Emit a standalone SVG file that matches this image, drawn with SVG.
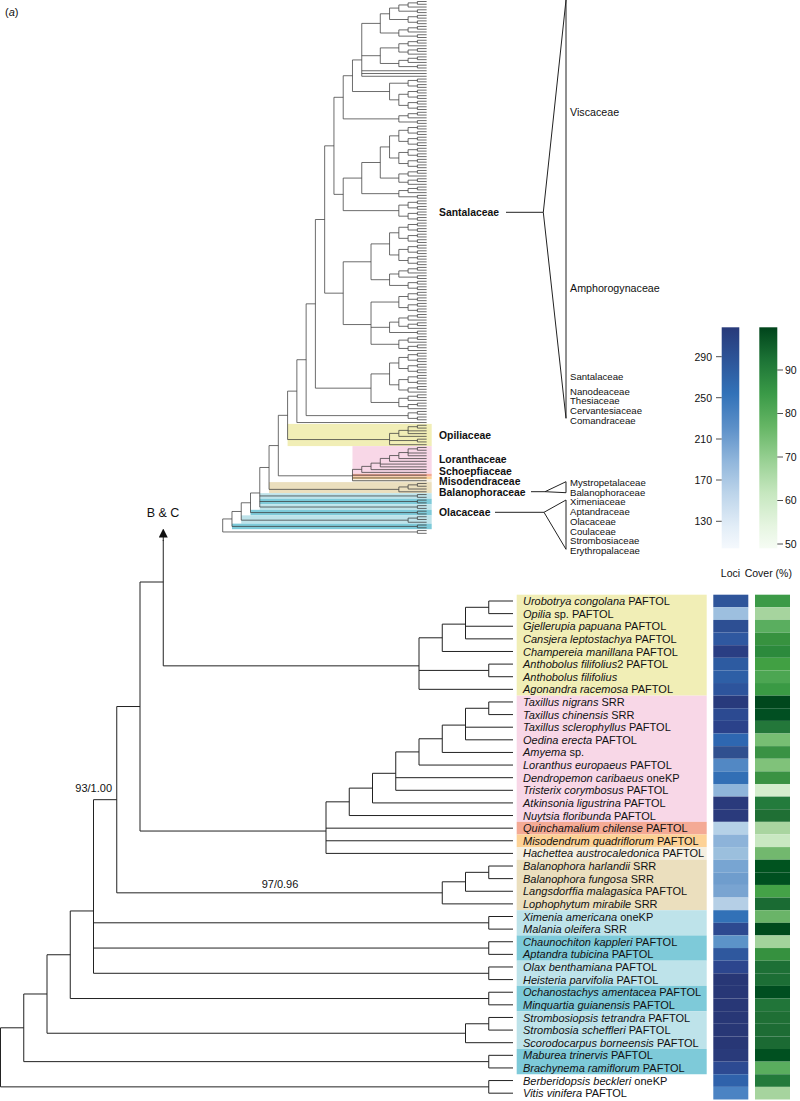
<svg xmlns="http://www.w3.org/2000/svg" xmlns:xlink="http://www.w3.org/1999/xlink" width="800" height="1101" viewBox="0 0 800 1101">
<style>
.t{fill:none;stroke:#3c3c3c;stroke-width:0.75}
.b{fill:none;stroke:#222;stroke-width:1}
.br{fill:none;stroke:#222;stroke-width:1}
.sp{font-family:"Liberation Sans",Arial,sans-serif;font-size:11px;fill:#111}
.i{font-style:italic}
.fb{font-family:"Liberation Sans",Arial,sans-serif;font-size:10.4px;font-weight:bold;fill:#111}
.fn{font-family:"Liberation Sans",Arial,sans-serif;font-size:10.7px;fill:#111}
.fs{font-family:"Liberation Sans",Arial,sans-serif;font-size:9.6px;fill:#111}
.lg{font-family:"Liberation Sans",Arial,sans-serif;font-size:10.5px;fill:#111}
.yel{fill:#f1eeb6}.pnk{fill:#f8d7e7}.sal{fill:#f4aa95}.org{fill:#fdd296}.bei{fill:#f5efe0}.tan{fill:#ebdfbe}.lbl{fill:#bee3ea}.teal{fill:#7ecad9}
</style>
<defs>
<linearGradient id="gB" x1="0" y1="0" x2="0" y2="1">
<stop offset="0" stop-color="#283a7a"/><stop offset="0.15" stop-color="#2d5599"/><stop offset="0.3" stop-color="#3272b8"/><stop offset="0.45" stop-color="#5b8fc8"/><stop offset="0.6" stop-color="#8fb5db"/><stop offset="0.75" stop-color="#bcd4ea"/><stop offset="0.9" stop-color="#e2edf7"/><stop offset="1" stop-color="#f5f9fd"/>
</linearGradient>
<linearGradient id="gG" x1="0" y1="0" x2="0" y2="1">
<stop offset="0" stop-color="#00441b"/><stop offset="0.15" stop-color="#1d7436"/><stop offset="0.3" stop-color="#3a9a47"/><stop offset="0.45" stop-color="#66b665"/><stop offset="0.6" stop-color="#98d093"/><stop offset="0.75" stop-color="#c6e7bf"/><stop offset="0.9" stop-color="#e6f5e1"/><stop offset="1" stop-color="#f6fcf4"/>
</linearGradient>
<path id="C2" d="M-9.27,0H0M-9.27,2.77H0M-9.27,0V2.77"/>
<g id="C3"><use href="#C2"/><path d="M-18.54,1.385H-9.27M-18.54,5.54H0M-18.54,1.385V5.54"/></g>
<g id="C4"><use href="#C2"/><use href="#C2" y="5.54"/><path d="M-18.54,1.385H-9.27M-18.54,6.925H-9.27M-18.54,1.385V6.925"/></g>
<g id="C5"><use href="#C3"/><use href="#C2" y="8.31"/><path d="M-27.81,3.4625H-18.54M-27.81,9.695H-9.27M-27.81,3.4625V9.695"/></g>
<g id="C6"><use href="#C3"/><use href="#C3" y="8.31"/><path d="M-27.81,3.4625H-18.54M-27.81,11.7725H-18.54M-27.81,3.4625V11.7725"/></g>
<g id="C8"><use href="#C4"/><use href="#C4" y="11.08"/><path d="M-27.81,4.155H-18.54M-27.81,15.235H-18.54M-27.81,4.155V15.235"/></g>
<path id="B2" d="M-24.25,0H0M-24.25,12.62H0M-24.25,0V12.62"/>
<marker id="arr" viewBox="0 0 10 10" refX="5" refY="5" markerWidth="9" markerHeight="9" orient="auto"><path d="M0,0L10,5L0,10z" fill="#111"/></marker>
</defs>

<text x="5" y="16" class="sp">(<tspan class="i">a</tspan>)</text>

<!-- top tree clade bands -->
<g id="top-bands">
<rect class="yel" x="287.59" y="423.9" width="144.11" height="22.2"/>
<rect class="pnk" x="352.48" y="446.1" width="79.22" height="27.7"/>
<rect class="sal" x="352.48" y="473.8" width="79.22" height="2.77"/>
<rect class="org" x="352.48" y="476.57" width="79.22" height="2.77"/>
<rect class="bei" x="352.48" y="479.34" width="79.22" height="2.77"/>
<rect class="tan" x="269.05" y="482.1" width="162.65" height="11.08"/>
<rect class="lbl" x="259.78" y="493.18" width="171.92" height="5.54"/>
<rect class="teal" x="259.78" y="498.72" width="171.92" height="5.54"/>
<rect class="lbl" x="259.78" y="504.26" width="171.92" height="5.54"/>
<rect class="teal" x="250.51" y="509.8" width="181.19" height="5.54"/>
<rect class="lbl" x="241.24" y="515.34" width="190.46" height="8.31"/>
<rect class="teal" x="231.97" y="523.65" width="199.73" height="5.54"/>
</g>

<!-- top tree -->
<g id="top-tree" class="t">
<use href="#C5" x="426.64" y="1.5"/>
<use href="#C4" x="426.64" y="15.35"/>
<use href="#C5" x="426.64" y="26.43"/>
<use href="#C6" x="426.64" y="40.28"/>
<use href="#C5" x="426.64" y="56.9"/>
<use href="#C4" x="426.64" y="79.06"/>
<use href="#C4" x="426.64" y="90.14"/>
<use href="#C4" x="426.64" y="101.22"/>
<use href="#C5" x="426.64" y="112.3"/>
<use href="#C8" x="426.64" y="126.15"/>
<use href="#C8" x="426.64" y="148.31"/>
<use href="#C6" x="426.64" y="170.47"/>
<use href="#C5" x="426.64" y="187.09"/>
<use href="#C8" x="426.64" y="200.94"/>
<use href="#C8" x="426.64" y="223.1"/>
<use href="#C8" x="426.64" y="245.26"/>
<use href="#C5" x="426.64" y="267.42"/>
<use href="#C4" x="426.64" y="281.27"/>
<use href="#C8" x="426.64" y="292.35"/>
<use href="#C6" x="426.64" y="314.51"/>
<use href="#C2" x="426.64" y="331.13"/>
<use href="#C3" x="426.64" y="336.67"/>
<use href="#C3" x="426.64" y="344.98"/>
<use href="#C8" x="426.64" y="353.29"/>
<use href="#C4" x="426.64" y="375.45"/>
<use href="#C3" x="426.64" y="386.53"/>
<use href="#C6" x="426.64" y="394.84"/>
<use href="#C4" x="426.64" y="411.46"/>
<use href="#C2" x="426.64" y="425.31"/>
<use href="#C2" x="426.64" y="439.16"/>
<use href="#C2" x="426.64" y="447.47"/>
<use href="#C2" x="426.64" y="483.48"/>
<use href="#C2" x="426.64" y="494.56"/>
<use href="#C2" x="426.64" y="500.10"/>
<use href="#C2" x="426.64" y="505.64"/>
<use href="#C2" x="426.64" y="511.18"/>
<use href="#C2" x="426.64" y="516.72"/>
<use href="#C2" x="426.64" y="525.03"/>
<use href="#C2" x="426.64" y="530.57"/>
<path d="M389.56,8.079V19.505M389.56,8.079H398.83M389.56,19.505H408.10
M380.29,13.792V33.009M380.29,13.792H389.56M380.29,33.009H398.83
M380.29,47.8975V63.479M380.29,47.8975H398.83M380.29,63.479H398.83
M361.75,23.4V76.29M361.75,23.4H380.29M361.75,55.689H380.29M361.75,70.75H426.64M361.75,73.52H426.64M361.75,76.29H426.64
M398.83,94.295V105.375M398.83,94.295H408.10M398.83,105.375H408.10
M389.56,83.215V99.835M389.56,83.215H408.10M389.56,99.835H398.83
M352.48,59.93V91.525M352.48,59.93H361.75M352.48,91.525H389.56
M343.21,75.73V118.879M343.21,75.73H352.48M343.21,118.879H398.83
M389.56,135.845V158.005M389.56,135.845H398.83M389.56,158.005H398.83
M380.29,146.925V178.0875M380.29,146.925H389.56M380.29,178.0875H398.83
M361.75,162.506V193.669M361.75,162.506H380.29M361.75,193.669H398.83
M343.21,178.09V210.635M343.21,178.09H361.75M343.21,210.635H398.83
M333.94,97.3V194.36M333.94,97.3H343.21M333.94,194.36H343.21
M389.56,232.795V254.955M389.56,232.795H398.83M389.56,254.955H398.83
M389.56,273.999V285.425M389.56,273.999H398.83M389.56,285.425H408.10
M389.56,322.1275V332.515M389.56,322.1275H398.83M389.56,332.515H417.37
M398.83,340.1325V348.4425M398.83,340.1325H408.10M398.83,348.4425H408.10
M371.02,243.875V279.712M371.02,243.875H389.56M371.02,279.712H389.56
M371.02,302.045V344.2875M371.02,302.045H398.83M371.02,327.321H389.56M371.02,344.2875H398.83
M343.21,261.79V324.55M343.21,261.79H371.02M343.21,324.55H371.02
M324.67,145.83V293.17M324.67,145.83H333.94M324.67,293.17H343.21
M398.83,379.605V389.9925M398.83,379.605H408.10M398.83,389.9925H408.10
M389.56,362.985V384.799M389.56,362.985H398.83M389.56,384.799H398.83
M371.02,373.892V402.4575M371.02,373.892H389.56M371.02,402.4575H398.83
M315.40,219.5V388.17M315.40,219.5H324.67M315.40,388.17H371.02
M306.13,303.84V415.615M306.13,303.84H315.40M306.13,415.615H408.10
M296.86,359.73V422.54M296.86,359.73H306.13M296.86,422.54H426.64
M287.59,391.135V439.545M287.59,391.135H296.86M287.59,439.545H389.56
M389.56,433.389V444.70M389.56,433.389H398.83M389.56,440.545H417.37M389.56,444.70H426.64
M398.83,430.388V436.39M398.83,430.388H408.10M398.83,436.39H426.64
M408.10,426.695V433.62M408.10,426.695H417.37M408.10,430.85H426.64M408.10,433.62H426.64
M408.10,448.855V455.78M408.10,448.855H417.37M408.10,453.01H426.64M408.10,455.78H426.64
M398.83,452.548V458.55M398.83,452.548H408.10M398.83,458.55H426.64
M389.56,455.549V461.32M389.56,455.549H398.83M389.56,461.32H426.64
M380.29,458.435V466.86M380.29,458.435H389.56M380.29,464.09H426.64M380.29,466.86H426.64
M371.02,463.128V469.63M371.02,463.128H380.29M371.02,469.63H426.64
M361.75,466.379V472.40M361.75,466.379H371.02M361.75,472.40H426.64
M352.48,469.39V480.71M352.48,469.39H361.75M352.48,475.17H426.64M352.48,477.94H426.64M352.48,480.71H426.64
M278.32,415.34V475.80M278.32,415.34H287.59M278.32,475.80H352.48
M408.10,484.865V489.02M408.10,484.865H417.37M408.10,489.02H426.64
M398.83,486.94V491.79M398.83,486.94H408.10M398.83,491.79H426.64
M269.05,445.57V489.365M269.05,445.57H278.32M269.05,489.365H398.83
M259.78,467.47V507.025M259.78,467.47H269.05M259.78,495.945H417.37M259.78,501.485H417.37M259.78,507.025H417.37
M250.51,492.98V512.565M250.51,492.98H259.78M250.51,512.565H417.37
M408.10,518.105V522.26M408.10,518.105H417.37M408.10,522.26H426.64
M241.24,502.77V520.18M241.24,502.77H250.51M241.24,520.18H408.10
M231.97,511.475V526.415M231.97,511.475H241.24M231.97,526.415H417.37
M222.70,518.945V531.955M222.70,518.945H231.97M222.70,531.955H417.37"/>
</g>

<!-- top tree family labels -->
<g id="top-labels">
<text class="fb" x="439" y="216">Santalaceae</text>
<text class="fb" x="439" y="438.8">Opiliaceae</text>
<text class="fb" x="439" y="462.8">Loranthaceae</text>
<text class="fb" x="439" y="475">Schoepfiaceae</text>
<text class="fb" x="439" y="485.3">Misodendraceae</text>
<text class="fb" x="439" y="495.6">Balanophoraceae</text>
<text class="fb" x="439" y="516">Olacaceae</text>
<text class="fn" x="570" y="115.8">Viscaceae</text>
<text class="fn" x="570" y="291.8">Amphorogynaceae</text>
<text class="fs" x="570" y="380">Santalaceae</text>
<text class="fs" x="570" y="394.6">Nanodeaceae</text>
<text class="fs" x="570" y="404.4">Thesiaceae</text>
<text class="fs" x="570" y="414.2">Cervantesiaceae</text>
<text class="fs" x="570" y="424">Comandraceae</text>
<text class="fs" x="570" y="485.6">Mystropetalaceae</text>
<text class="fs" x="570" y="495.6">Balanophoraceae</text>
<text class="fs" x="570" y="505.4">Ximeniaceae</text>
<text class="fs" x="570" y="515">Aptandraceae</text>
<text class="fs" x="570" y="525">Olacaceae</text>
<text class="fs" x="570" y="534.6">Coulaceae</text>
<text class="fs" x="570" y="544.2">Strombosiaceae</text>
<text class="fs" x="570" y="553.8">Erythropalaceae</text>
</g>
<g id="brackets" class="br">
<path d="M506,212.3H543.3L566,0M543.3,212.3L566,418.3M566,0V418.3"/>
<path d="M531,491.7H545L566,481.7M545,491.7L566,492.7M566,481.7V492.7"/>
<path d="M495,512.3H544L566,500M544,512.3L566,549.3M566,500V549.3"/>
</g>

<!-- legend -->
<g id="legend">
<rect x="721.7" y="327.3" width="17.6" height="221" fill="url(#gB)"/>
<rect x="759.3" y="327.3" width="18" height="221" fill="url(#gG)"/>
<path d="M716,356.7H721.7M716,397.7H721.7M716,439H721.7M716,480H721.7M716,521.3H721.7M777.3,370H783M777.3,413.5H783M777.3,457H783M777.3,500.5H783M777.3,544H783" stroke="#222" stroke-width="0.8" fill="none"/>
<text class="lg" x="712" y="360.5" text-anchor="end">290</text>
<text class="lg" x="712" y="401.5" text-anchor="end">250</text>
<text class="lg" x="712" y="442.8" text-anchor="end">210</text>
<text class="lg" x="712" y="483.8" text-anchor="end">170</text>
<text class="lg" x="712" y="525.1" text-anchor="end">130</text>
<text class="lg" x="785" y="373.8">90</text>
<text class="lg" x="785" y="417.3">80</text>
<text class="lg" x="785" y="460.8">70</text>
<text class="lg" x="785" y="504.3">60</text>
<text class="lg" x="785" y="547.8">50</text>
<text class="lg" x="730.5" y="577" text-anchor="middle">Loci</text>
<text class="lg" x="768.3" y="577" text-anchor="middle">Cover (%)</text>
</g>

<!-- B & C pointer -->
<text x="163" y="517" font-family="'Liberation Sans',Arial,sans-serif" font-size="12.5" text-anchor="middle" fill="#111">B &amp; C</text>

<!-- bottom label bands -->
<g id="bottom-bands">
<rect class="yel" x="516.7" y="594.69" width="190" height="100.96"/>
<rect class="pnk" x="516.7" y="695.65" width="190" height="126.2"/>
<rect class="sal" x="516.7" y="821.85" width="190" height="12.62"/>
<rect class="org" x="516.7" y="834.47" width="190" height="12.62"/>
<rect class="bei" x="516.7" y="847.09" width="190" height="12.62"/>
<rect class="tan" x="516.7" y="859.71" width="190" height="50.48"/>
<rect class="lbl" x="516.7" y="910.19" width="190" height="25.24"/>
<rect class="teal" x="516.7" y="935.43" width="190" height="25.24"/>
<rect class="lbl" x="516.7" y="960.67" width="190" height="25.24"/>
<rect class="teal" x="516.7" y="985.91" width="190" height="25.24"/>
<rect class="lbl" x="516.7" y="1011.15" width="190" height="37.86"/>
<rect class="teal" x="516.7" y="1049.01" width="190" height="25.24"/>
</g>

<!-- bottom tree -->
<g id="bottom-tree" class="b">
<use href="#B2" x="513" y="601"/>
<use href="#B2" x="513" y="664.1"/>
<use href="#B2" x="513" y="701.96"/>
<use href="#B2" x="513" y="866.02"/>
<use href="#B2" x="513" y="916.5"/>
<use href="#B2" x="513" y="941.74"/>
<use href="#B2" x="513" y="966.98"/>
<use href="#B2" x="513" y="992.22"/>
<use href="#B2" x="513" y="1017.46"/>
<use href="#B2" x="513" y="1055.32"/>
<use href="#B2" x="513" y="1080.56"/>
<path d="M465.5,607.31V638.86M465.5,607.31H488.75M465.5,626.24H513M465.5,638.86H513
M442.25,624.14V651.48M442.25,624.14H465.5M442.25,651.48H513
M419,637.81V689.34M419,637.81H442.25M419,670.41H488.75M419,689.34H513
M163.25,665.85V540M163.25,665.85H419
M465.5,708.27V739.82M465.5,708.27H488.75M465.5,727.2H513M465.5,739.82H513
M442.25,725.1V752.44M442.25,725.1H465.5M442.25,752.44H513
M419,738.77V765.06M419,738.77H442.25M419,765.06H513
M395.75,751.92V790.3M395.75,751.92H419M395.75,777.68H513M395.75,790.3H513
M372.5,773.3V802.92M372.5,773.3H395.75M372.5,802.92H513
M349.25,788.11V815.54M349.25,788.11H372.5M349.25,815.54H513
M326,801.83V853.4M326,801.83H349.25M326,828.16H513M326,840.78H513M326,853.4H513
M140,582V831.04M140,582H163.25M140,831.04H326
M465.5,872.33V891.26M465.5,872.33H488.75M465.5,891.26H513
M442.25,881.8V903.88M442.25,881.8H465.5M442.25,903.88H513
M116.75,706.52V892.84M116.75,706.52H140M116.75,892.84H442.25
M93.5,799.68V973.29M93.5,799.68H116.75M93.5,922.81H488.75M93.5,948.05H488.75M93.5,973.29H488.75
M70.25,910.96V998.53M70.25,910.96H93.5M70.25,998.53H488.75
M465.5,1023.77V1042.7M465.5,1023.77H488.75M465.5,1042.7H513
M47,954.75V1033.24M47,954.75H70.25M47,1033.24H465.5
M23.75,993.99V1061.63M23.75,993.99H47M23.75,1061.63H488.75
M0.5,1027.81V1086.87M0.5,1027.81H23.75M0.5,1086.87H488.75"/>
<path d="M163.25,541V533" marker-end="url(#arr)"/>
</g>
<text class="sp" x="112" y="792" text-anchor="end">93/1.00</text>
<text class="sp" x="280" y="888" text-anchor="middle">97/0.96</text>

<!-- species labels -->
<g id="species" class="sp">
<text x="523" y="605"><tspan class="i">Urobotrya congolana</tspan> PAFTOL</text>
<text x="523" y="617.6"><tspan class="i">Opilia</tspan> sp. PAFTOL</text>
<text x="523" y="630.2"><tspan class="i">Gjellerupia papuana</tspan> PAFTOL</text>
<text x="523" y="642.9"><tspan class="i">Cansjera leptostachya</tspan> PAFTOL</text>
<text x="523" y="655.5"><tspan class="i">Champereia manillana</tspan> PAFTOL</text>
<text x="523" y="668.1"><tspan class="i">Anthobolus filifolius</tspan>2 PAFTOL</text>
<text x="523" y="680.7"><tspan class="i">Anthobolus filifolius</tspan></text>
<text x="523" y="693.3"><tspan class="i">Agonandra racemosa</tspan> PAFTOL</text>
<text x="523" y="706"><tspan class="i">Taxillus nigrans</tspan> SRR</text>
<text x="523" y="718.6"><tspan class="i">Taxillus chinensis</tspan> SRR</text>
<text x="523" y="731.2"><tspan class="i">Taxillus sclerophyllus</tspan> PAFTOL</text>
<text x="523" y="743.8"><tspan class="i">Oedina erecta</tspan> PAFTOL</text>
<text x="523" y="756.4"><tspan class="i">Amyema</tspan> sp.</text>
<text x="523" y="769.1"><tspan class="i">Loranthus europaeus</tspan> PAFTOL</text>
<text x="523" y="781.7"><tspan class="i">Dendropemon caribaeus</tspan> oneKP</text>
<text x="523" y="794.3"><tspan class="i">Tristerix corymbosus</tspan> PAFTOL</text>
<text x="523" y="806.9"><tspan class="i">Atkinsonia ligustrina</tspan> PAFTOL</text>
<text x="523" y="819.5"><tspan class="i">Nuytsia floribunda</tspan> PAFTOL</text>
<text x="523" y="832.2"><tspan class="i">Quinchamalium chilense</tspan> PAFTOL</text>
<text x="523" y="844.8"><tspan class="i">Misodendrum quadriflorum</tspan> PAFTOL</text>
<text x="523" y="857.4"><tspan class="i">Hachettea austrocaledonica</tspan> PAFTOL</text>
<text x="523" y="870"><tspan class="i">Balanophora harlandii</tspan> SRR</text>
<text x="523" y="882.6"><tspan class="i">Balanophora fungosa</tspan> SRR</text>
<text x="523" y="895.3"><tspan class="i">Langsdorffia malagasica</tspan> PAFTOL</text>
<text x="523" y="907.9"><tspan class="i">Lophophytum mirabile</tspan> SRR</text>
<text x="523" y="920.5"><tspan class="i">Ximenia americana</tspan> oneKP</text>
<text x="523" y="933.1"><tspan class="i">Malania oleifera</tspan> SRR</text>
<text x="523" y="945.7"><tspan class="i">Chaunochiton kappleri</tspan> PAFTOL</text>
<text x="523" y="958.4"><tspan class="i">Aptandra tubicina</tspan> PAFTOL</text>
<text x="523" y="971"><tspan class="i">Olax benthamiana</tspan> PAFTOL</text>
<text x="523" y="983.6"><tspan class="i">Heisteria parvifolia</tspan> PAFTOL</text>
<text x="523" y="996.2"><tspan class="i">Ochanostachys amentacea</tspan> PAFTOL</text>
<text x="523" y="1008.8"><tspan class="i">Minquartia guianensis</tspan> PAFTOL</text>
<text x="523" y="1021.5"><tspan class="i">Strombosiopsis tetrandra</tspan> PAFTOL</text>
<text x="523" y="1034.1"><tspan class="i">Strombosia scheffleri</tspan> PAFTOL</text>
<text x="523" y="1046.7"><tspan class="i">Scorodocarpus borneensis</tspan> PAFTOL</text>
<text x="523" y="1059.3"><tspan class="i">Maburea trinervis</tspan> PAFTOL</text>
<text x="523" y="1071.9"><tspan class="i">Brachynema ramiflorum</tspan> PAFTOL</text>
<text x="523" y="1084.6"><tspan class="i">Berberidopsis beckleri</tspan> oneKP</text>
<text x="523" y="1097.2"><tspan class="i">Vitis vinifera</tspan> PAFTOL</text>
</g>

<!-- heatmap -->
<g id="heatmap">
<rect x="713.3" y="594.69" width="35" height="12.62" fill="#2f559a"/><rect x="755" y="594.69" width="35" height="12.62" fill="#3c9a47"/>
<rect x="713.3" y="607.31" width="35" height="12.62" fill="#9dbfdf"/><rect x="755" y="607.31" width="35" height="12.62" fill="#a6d49e"/>
<rect x="713.3" y="619.93" width="35" height="12.62" fill="#2d4f93"/><rect x="755" y="619.93" width="35" height="12.62" fill="#5aae5f"/>
<rect x="713.3" y="632.55" width="35" height="12.62" fill="#2f58a0"/><rect x="755" y="632.55" width="35" height="12.62" fill="#37923f"/>
<rect x="713.3" y="645.17" width="35" height="12.62" fill="#2a3e83"/><rect x="755" y="645.17" width="35" height="12.62" fill="#2c8a3c"/>
<rect x="713.3" y="657.79" width="35" height="12.62" fill="#2d5ba1"/><rect x="755" y="657.79" width="35" height="12.62" fill="#41a043"/>
<rect x="713.3" y="670.41" width="35" height="12.62" fill="#2e5fa6"/><rect x="755" y="670.41" width="35" height="12.62" fill="#4ca652"/>
<rect x="713.3" y="683.03" width="35" height="12.62" fill="#2d549c"/><rect x="755" y="683.03" width="35" height="12.62" fill="#3a9a44"/>
<rect x="713.3" y="695.65" width="35" height="12.62" fill="#283a7c"/><rect x="755" y="695.65" width="35" height="12.62" fill="#00471d"/>
<rect x="713.3" y="708.27" width="35" height="12.62" fill="#2c4a91"/><rect x="755" y="708.27" width="35" height="12.62" fill="#014f22"/>
<rect x="713.3" y="720.89" width="35" height="12.62" fill="#2b428a"/><rect x="755" y="720.89" width="35" height="12.62" fill="#23773a"/>
<rect x="713.3" y="733.51" width="35" height="12.62" fill="#2e67b1"/><rect x="755" y="733.51" width="35" height="12.62" fill="#77be73"/>
<rect x="713.3" y="746.13" width="35" height="12.62" fill="#30508f"/><rect x="755" y="746.13" width="35" height="12.62" fill="#3a9244"/>
<rect x="713.3" y="758.75" width="35" height="12.62" fill="#5288c4"/><rect x="755" y="758.75" width="35" height="12.62" fill="#80c27a"/>
<rect x="713.3" y="771.37" width="35" height="12.62" fill="#326fb5"/><rect x="755" y="771.37" width="35" height="12.62" fill="#3a9243"/>
<rect x="713.3" y="783.99" width="35" height="12.62" fill="#8fb5da"/><rect x="755" y="783.99" width="35" height="12.62" fill="#d4edcd"/>
<rect x="713.3" y="796.61" width="35" height="12.62" fill="#2a3a7c"/><rect x="755" y="796.61" width="35" height="12.62" fill="#237b3c"/>
<rect x="713.3" y="809.23" width="35" height="12.62" fill="#2a3a7c"/><rect x="755" y="809.23" width="35" height="12.62" fill="#1f6f34"/>
<rect x="713.3" y="821.85" width="35" height="12.62" fill="#b5d1e7"/><rect x="755" y="821.85" width="35" height="12.62" fill="#a9d5a0"/>
<rect x="713.3" y="834.47" width="35" height="12.62" fill="#8db3d9"/><rect x="755" y="834.47" width="35" height="12.62" fill="#c9e8c2"/>
<rect x="713.3" y="847.09" width="35" height="12.62" fill="#9bbfdd"/><rect x="755" y="847.09" width="35" height="12.62" fill="#72b86e"/>
<rect x="713.3" y="859.71" width="35" height="12.62" fill="#78a5d2"/><rect x="755" y="859.71" width="35" height="12.62" fill="#00531f"/>
<rect x="713.3" y="872.33" width="35" height="12.62" fill="#6f9dcd"/><rect x="755" y="872.33" width="35" height="12.62" fill="#005020"/>
<rect x="713.3" y="884.95" width="35" height="12.62" fill="#79a4d1"/><rect x="755" y="884.95" width="35" height="12.62" fill="#44a247"/>
<rect x="713.3" y="897.57" width="35" height="12.62" fill="#b5cfe6"/><rect x="755" y="897.57" width="35" height="12.62" fill="#1a6b33"/>
<rect x="713.3" y="910.19" width="35" height="12.62" fill="#3271b7"/><rect x="755" y="910.19" width="35" height="12.62" fill="#6ab468"/>
<rect x="713.3" y="922.81" width="35" height="12.62" fill="#2d4990"/><rect x="755" y="922.81" width="35" height="12.62" fill="#004b1d"/>
<rect x="713.3" y="935.43" width="35" height="12.62" fill="#5c93c8"/><rect x="755" y="935.43" width="35" height="12.62" fill="#a3d39c"/>
<rect x="713.3" y="948.05" width="35" height="12.62" fill="#2f589e"/><rect x="755" y="948.05" width="35" height="12.62" fill="#36913f"/>
<rect x="713.3" y="960.67" width="35" height="12.62" fill="#2c468e"/><rect x="755" y="960.67" width="35" height="12.62" fill="#1d7036"/>
<rect x="713.3" y="973.29" width="35" height="12.62" fill="#283776"/><rect x="755" y="973.29" width="35" height="12.62" fill="#1c6e35"/>
<rect x="713.3" y="985.91" width="35" height="12.62" fill="#283776"/><rect x="755" y="985.91" width="35" height="12.62" fill="#004e20"/>
<rect x="713.3" y="998.53" width="35" height="12.62" fill="#283776"/><rect x="755" y="998.53" width="35" height="12.62" fill="#217539"/>
<rect x="713.3" y="1011.15" width="35" height="12.62" fill="#283776"/><rect x="755" y="1011.15" width="35" height="12.62" fill="#1f6f35"/>
<rect x="713.3" y="1023.77" width="35" height="12.62" fill="#283776"/><rect x="755" y="1023.77" width="35" height="12.62" fill="#1d6c34"/>
<rect x="713.3" y="1036.39" width="35" height="12.62" fill="#283776"/><rect x="755" y="1036.39" width="35" height="12.62" fill="#1b6a33"/>
<rect x="713.3" y="1049.01" width="35" height="12.62" fill="#293a7a"/><rect x="755" y="1049.01" width="35" height="12.62" fill="#005020"/>
<rect x="713.3" y="1061.63" width="35" height="12.62" fill="#2d4a92"/><rect x="755" y="1061.63" width="35" height="12.62" fill="#5aad5e"/>
<rect x="713.3" y="1074.25" width="35" height="12.62" fill="#2f62ab"/><rect x="755" y="1074.25" width="35" height="12.62" fill="#237a3b"/>
<rect x="713.3" y="1086.87" width="35" height="12.62" fill="#4b83c3"/><rect x="755" y="1086.87" width="35" height="12.62" fill="#a6d49e"/>
</g>
</svg>
